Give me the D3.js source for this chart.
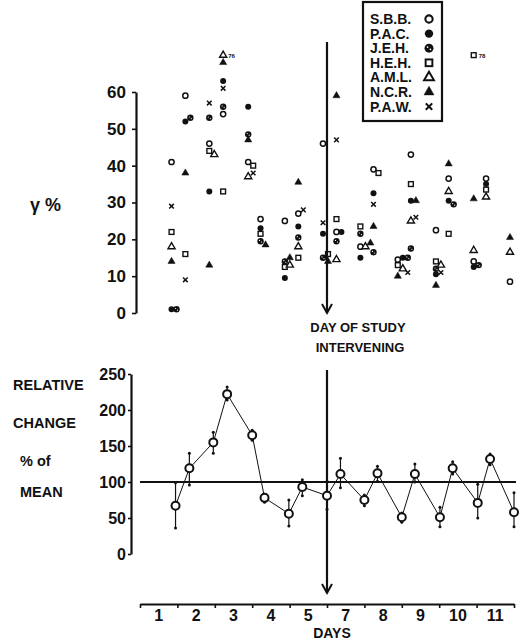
<!DOCTYPE html>
<html><head><meta charset="utf-8">
<script src="https://cdn.jsdelivr.net/npm/d3@7"></script>
<style>
html,body{margin:0;padding:0;background:#fff;}
svg{display:block;}
text{font-family:"Liberation Sans",Arial,Helvetica,sans-serif;font-weight:bold;fill:#111;}
</style></head>
<body>
<svg id="chart" width="522" height="642"></svg>
<script>
// ---------- DATA ----------
// measurement sessions, in day units (0 = start of day "1" on the axis)
const sessions = [0.95,1.32,1.96,2.33,3.0,3.33,3.98,4.34,5.0,5.36,6.0,6.35,7.0,7.35,8.02,8.36,9.03,9.36,10.0];
const subjects = ["S.B.B.","P.A.C.","J.E.H.","H.E.H.","A.M.L.","N.C.R.","P.A.W."];
const markerTypes = ["openCircle","filledCircle","dottedCircle","openSquare","openTriangle","filledTriangle","cross"];
// gamma % per subject and session
const sbb = [41,59,46,54,41,25.5,25,27,46,22,18,39,14.5,43,22.5,36.5,14,36.5,8.5];
const pac = [1,52,33,63,56,23,9.5,23.5,21.5,22,15,32.5,15,30.5,10.5,30.5,12.5,35,null];
const jeh = [1,53,53,56,48.5,19.5,14,20.5,15,19.5,21.5,16.5,15,17.5,12,29.5,13,null,null];
const heh = [22,16,44,33,40,21.5,12.5,15,16,25.5,23.5,38,13,35,14,21.5,78,33.5,null];
const aml = [18,null,43,76,37,null,13,18,null,14.5,18,null,12,25,13,33,17,31.5,16.5];
const ncr = [14,38,13,68,47,18.5,15,35.5,14,59,19,23.5,10,30.5,7.5,40.5,31,null,20.5];
const paw = [29,9,57,61,38,null,null,28,24.5,47,null,29.5,11,26,11,null,null,null,null];
const topTicks = [0,10,20,30,40,50,60];
const offScaleLimit = 70;
// relative change, % of mean
const relMean = [67,119,155,222,165,78,56,93,81,111,75,112,51,111,51,119,71,132,58];
const relHigh = [99,140,169,232,172,83,75,103,101,133,82,122,57,125,65,128,97,139,85];
const relLow  = [36,96,140,214,158,72,39,81,62,92,67,101,44,100,38,111,50,124,38];
const bottomTicks = [0,50,100,150,200,250];
const meanLevel = 100;
const dayBoundaries = [0,1,2,3,4,5,6,7,8,9,10];
const dayLabels = ["1","2","3","4","5","7","8","9","10","11"];
const interventionAt = 5.0;

const seriesValues = [sbb,pac,jeh,heh,aml,ncr,paw];

// ---------- SCALES ----------
const svg = d3.select("#chart");
const x = d3.scaleLinear().domain([0,10]).range([140,514]);
const xTop = d3.scaleLinear().domain([0,10]).range([136,510]);
const yTop = d3.scaleLinear().domain([0,60]).range([313,92]);
const yBot = d3.scaleLinear().domain([0,250]).range([554,374]);

// ---------- MARKERS ----------
function marker(g, type, cx, cy, s) {
  s = s || 1;
  if (type === "openCircle") {
    g.append("circle").attr("cx",cx).attr("cy",cy).attr("r",2.6*s)
      .attr("fill","#fff").attr("stroke","#111").attr("stroke-width",1.5*s);
  } else if (type === "filledCircle") {
    g.append("circle").attr("cx",cx).attr("cy",cy).attr("r",3*s).attr("fill","#111");
  } else if (type === "dottedCircle") {
    g.append("circle").attr("cx",cx).attr("cy",cy).attr("r",3.2*s).attr("fill","#111");
    g.append("circle").attr("cx",cx-1*s).attr("cy",cy-0.8*s).attr("r",0.6*s).attr("fill","#fff");
    g.append("circle").attr("cx",cx+1*s).attr("cy",cy+0.8*s).attr("r",0.6*s).attr("fill","#fff");
  } else if (type === "openSquare") {
    g.append("rect").attr("x",cx-2.4*s).attr("y",cy-2.4*s).attr("width",4.8*s).attr("height",4.8*s)
      .attr("fill","#fff").attr("stroke","#111").attr("stroke-width",1.4*s);
  } else if (type === "openTriangle" || type === "filledTriangle") {
    const sym = d3.symbol().type(d3.symbolTriangle).size(22*s*s)();
    g.append("path").attr("d",sym).attr("transform",`translate(${cx},${cy})`)
      .attr("fill", type === "filledTriangle" ? "#111" : "#fff")
      .attr("stroke","#111").attr("stroke-width",type === "filledTriangle" ? 0.5 : 1.4*s);
  } else if (type === "cross") {
    const d = 2.3*s;
    g.append("path").attr("d",`M${cx-d},${cy-d}L${cx+d},${cy+d}M${cx-d},${cy+d}L${cx+d},${cy-d}`)
      .attr("stroke","#111").attr("stroke-width",1.5*s);
  }
}

// ---------- TOP PANEL ----------
const topAxis = d3.axisLeft(yTop).tickValues(topTicks).tickSize(4).tickSizeOuter(0).tickPadding(6);
const gTopAxis = svg.append("g").attr("transform","translate(136,0)").call(topAxis);
gTopAxis.select(".domain").attr("stroke","#111").attr("stroke-width",2.2);
gTopAxis.selectAll(".tick line").attr("stroke","#111").attr("stroke-width",1.6);
gTopAxis.selectAll(".tick text").style("font-size","17px").style("font-weight","bold")
  .style("font-family","'Liberation Sans',Arial,sans-serif").attr("fill","#111");

svg.append("text").attr("x",30).attr("y",211).style("font-size","18px").text("γ %");

const gPts = svg.append("g");
sessions.forEach((sv, i) => {
  const placed = [];
  seriesValues.forEach((arr, k) => {
    const v = arr[i];
    if (v == null) return;
    const shown = Math.min(v, offScaleLimit);
    const cy = yTop(shown);
    let dx = 0;
    while (placed.some(p => Math.abs(p.cy - cy) < 4.5 && Math.abs(p.dx - dx) < 4.5)) dx += 5;
    placed.push({cy, dx});
    const cx = xTop(sv) + dx;
    marker(gPts, markerTypes[k], cx, cy, 1);
    if (v > offScaleLimit) {
      gPts.append("text").attr("x",cx+5).attr("y",cy+2.5).style("font-size","6px").text(String(v));
    }
  });
});

// legend
const lg = svg.append("g");
lg.append("rect").attr("x",363).attr("y",2).attr("width",79).attr("height",119)
  .attr("fill","#fff").attr("stroke","#111").attr("stroke-width",2.2);
subjects.forEach((s, k) => {
  const cy = 19 + k*14.6;
  lg.append("text").attr("x",370).attr("y",cy+5).style("font-size","14px").text(s);
  marker(lg, markerTypes[k], 429, cy, 1.4);
});

// intervention arrows
const xi = x(interventionAt);
function arrow(y1, y2) {
  svg.append("line").attr("x1",xi).attr("x2",xi).attr("y1",y1).attr("y2",y2)
    .attr("stroke","#111").attr("stroke-width",2.2);
  svg.append("path").attr("d",`M${xi-5},${y2-9}L${xi},${y2}L${xi+5},${y2-9}`)
    .attr("fill","none").attr("stroke","#111").attr("stroke-width",2);
}
arrow(42, 313);
arrow(370, 593);
svg.append("text").attr("x",358).attr("y",332).attr("text-anchor","middle").style("font-size","13px").text("DAY OF STUDY");
svg.append("text").attr("x",360).attr("y",352).attr("text-anchor","middle").style("font-size","13px").text("INTERVENING");

// ---------- BOTTOM PANEL ----------
const botAxis = d3.axisLeft(yBot).tickValues(bottomTicks).tickSize(3).tickSizeOuter(0).tickPadding(2);
const gBotAxis = svg.append("g").attr("transform","translate(131,0)").call(botAxis);
gBotAxis.select(".domain").attr("stroke","#111").attr("stroke-width",2.2);
gBotAxis.selectAll(".tick line").attr("stroke","#111").attr("stroke-width",1.6);
gBotAxis.selectAll(".tick text").style("font-size","16px").style("font-weight","bold")
  .style("font-family","'Liberation Sans',Arial,sans-serif").attr("fill","#111");

[["RELATIVE",13,390],["CHANGE",13,428],["% of",20,466],["MEAN",20,497]].forEach(t => {
  svg.append("text").attr("x",t[1]).attr("y",t[2]).style("font-size","14.5px").text(t[0]);
});

// reference line at mean
svg.append("line").attr("x1",140).attr("x2",516).attr("y1",yBot(meanLevel)).attr("y2",yBot(meanLevel))
  .attr("stroke","#111").attr("stroke-width",2);

// connecting line
const line = d3.line().x((d,i) => x(sessions[i])).y(d => yBot(d));
svg.append("path").datum(relMean).attr("d",line).attr("fill","none").attr("stroke","#111").attr("stroke-width",1);

// error bars
const gErr = svg.append("g");
sessions.forEach((sv, i) => {
  const cx = x(sv);
  gErr.append("line").attr("x1",cx).attr("x2",cx).attr("y1",yBot(relHigh[i])).attr("y2",yBot(relLow[i]))
    .attr("stroke","#111").attr("stroke-width",1.2);
  [relHigh[i], relLow[i]].forEach(v => {
    gErr.append("circle").attr("cx",cx).attr("cy",yBot(v)).attr("r",1.5).attr("fill","#111");
  });
  gErr.append("circle").attr("cx",cx).attr("cy",yBot(relMean[i])).attr("r",4)
    .attr("fill","#fff").attr("stroke","#111").attr("stroke-width",2);
});

// ---------- X AXIS ----------
const xAxis = d3.axisBottom(x).tickValues(dayBoundaries).tickSize(4).tickSizeOuter(0).tickFormat("");
const gX = svg.append("g").attr("transform","translate(0,604)").call(xAxis);
gX.select(".domain").attr("stroke","#111").attr("stroke-width",2.2);
gX.selectAll(".tick line").attr("stroke","#111").attr("stroke-width",1.6);
dayLabels.forEach((lab, i) => {
  svg.append("text").attr("x",x(i+0.5)).attr("y",621).attr("text-anchor","middle")
    .style("font-size","16px").text(lab);
});
svg.append("text").attr("x",332).attr("y",638).attr("text-anchor","middle").style("font-size","14px").text("DAYS");
</script>
</body></html>
